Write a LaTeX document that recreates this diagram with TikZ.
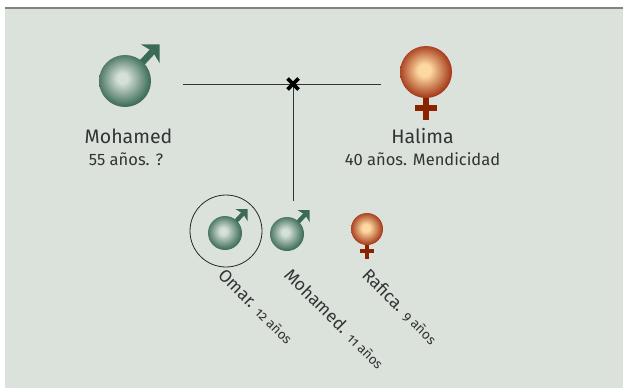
\documentclass[tikz,border=0pt]{standalone}
\usepackage{fontspec}
\setmainfont{Fira Sans}
\newfontfamily\osf[Numbers=OldStyle]{Fira Sans}
\newcommand\agefont{\osf\fontsize{13.5}{14}\selectfont}
\usetikzlibrary{calc}
\definecolor{bg}{HTML}{DBE2DB}
\definecolor{topline}{HTML}{808480}
\definecolor{mgreen}{HTML}{3B6B56}
\definecolor{mlight}{HTML}{D5E0D8}
\definecolor{mdark}{HTML}{42705C}
\definecolor{flight}{HTML}{FDD8A0}
\definecolor{fdark}{HTML}{A63C1C}
\definecolor{fred}{HTML}{8B2300}
\definecolor{txt}{HTML}{333333}
\pgfdeclareradialshading{malesph}{\pgfpoint{-3bp}{3bp}}{color(0bp)=(mlight); color(5bp)=(mlight); color(25bp)=(mdark); color(50bp)=(mdark)}
\pgfdeclareradialshading{femsph}{\pgfpoint{-2bp}{2bp}}{color(0bp)=(flight); color(6bp)=(flight); color(25bp)=(fdark); color(50bp)=(fdark)}
\tikzset{
  msph/.style={circle, inner sep=0pt, draw=none, shading=malesph},
  fsph/.style={circle, inner sep=0pt, draw=none, shading=femsph},
  male/.pic={
    \fill[mgreen] (0.09,0.09) -- (-0.09,-0.09) -- (0.97,-1.23) -- (1.15,-1.05) -- cycle;
    \fill[mgreen] (1.33,-1.41) -- (0.61,-1.41) -- (1.06,-1.14) -- (1.33,-0.69) -- cycle;
  },
  female/.pic={
    \fill[fred] (-0.125,0.9) rectangle (0.125,1.85);
    \fill[fred] (-0.43,1.27) rectangle (0.43,1.5);
  },
  lineconn/.style={draw=txt, line width=0.8pt},
  bigname/.style={anchor=base, inner sep=0pt, text=txt, font=\fontsize{19.5}{20}\selectfont},
  bigsub/.style={anchor=base, inner sep=0pt, text=txt, font=\fontsize{16.5}{17}\selectfont},
  kidlabel/.style={rotate=-45, anchor=base west, inner sep=0pt, text=txt, font=\fontsize{17.5}{18}\selectfont}
}
\begin{document}
\begin{tikzpicture}[x=1pt,y=-1pt]
\useasboundingbox (0,0) rectangle (623,388);
\fill[white] (0,0) rectangle (623,388);
\fill[bg] (5,8) rectangle (623,388);
\fill[topline] (5,6.5) rectangle (623,8.5);

% parents
\pic[scale=26] at (125,81) {male};
\node[msph, minimum size=52pt] (dad) at (125,81) {};
\pic[scale=26] at (426,72) {female};
\node[fsph, minimum size=52pt] (mom) at (426,72) {};

\coordinate (lL) at (183,84);
\coordinate (lR) at (381,84);
\coordinate (mar) at (293,84);
\coordinate (kids) at (293,201);
\draw[lineconn] (lL) -- (lR);
\draw[lineconn] (mar) -- (kids);
\draw[line width=3.6pt, draw=black] ($(mar)+(-5.5,-5.5)$) -- ($(mar)+(5.5,5.5)$);
\draw[line width=3.6pt, draw=black] ($(mar)+(-5.5,5.5)$) -- ($(mar)+(5.5,-5.5)$);

\node[bigname] (dadname) at (128.5,143) {Mohamed};
\node[bigsub] (dadsub) at (126,165) {55 años. ?};
\node[bigname] (momname) at (422.5,143) {Halima};
\node[bigsub] (momsub) at (422.5,165) {40 años. Mendicidad};

% children
\node[circle, draw=black!85, line width=0.8pt, minimum size=72pt, inner sep=0pt] (ring) at (226,231) {};
\pic[scale=17] at (225,233) {male};
\node[msph, minimum size=34pt] (omar) at (225,233) {};
\pic[scale=17] at (287,234) {male};
\node[msph, minimum size=34pt] (moh) at (287,234) {};
\pic[scale=16] at (367,229) {female};
\node[fsph, minimum size=32pt] (raf) at (367,229) {};

\node[kidlabel] (omarl) at (217,276) {Omar. {\agefont 12 años}};
\node[kidlabel] (mohl) at (283,276) {Mohamed. {\agefont 11 años}};
\node[kidlabel] (rafl) at (361,276) {Rafica. {\agefont 9 años}};
\end{tikzpicture}
\end{document}
